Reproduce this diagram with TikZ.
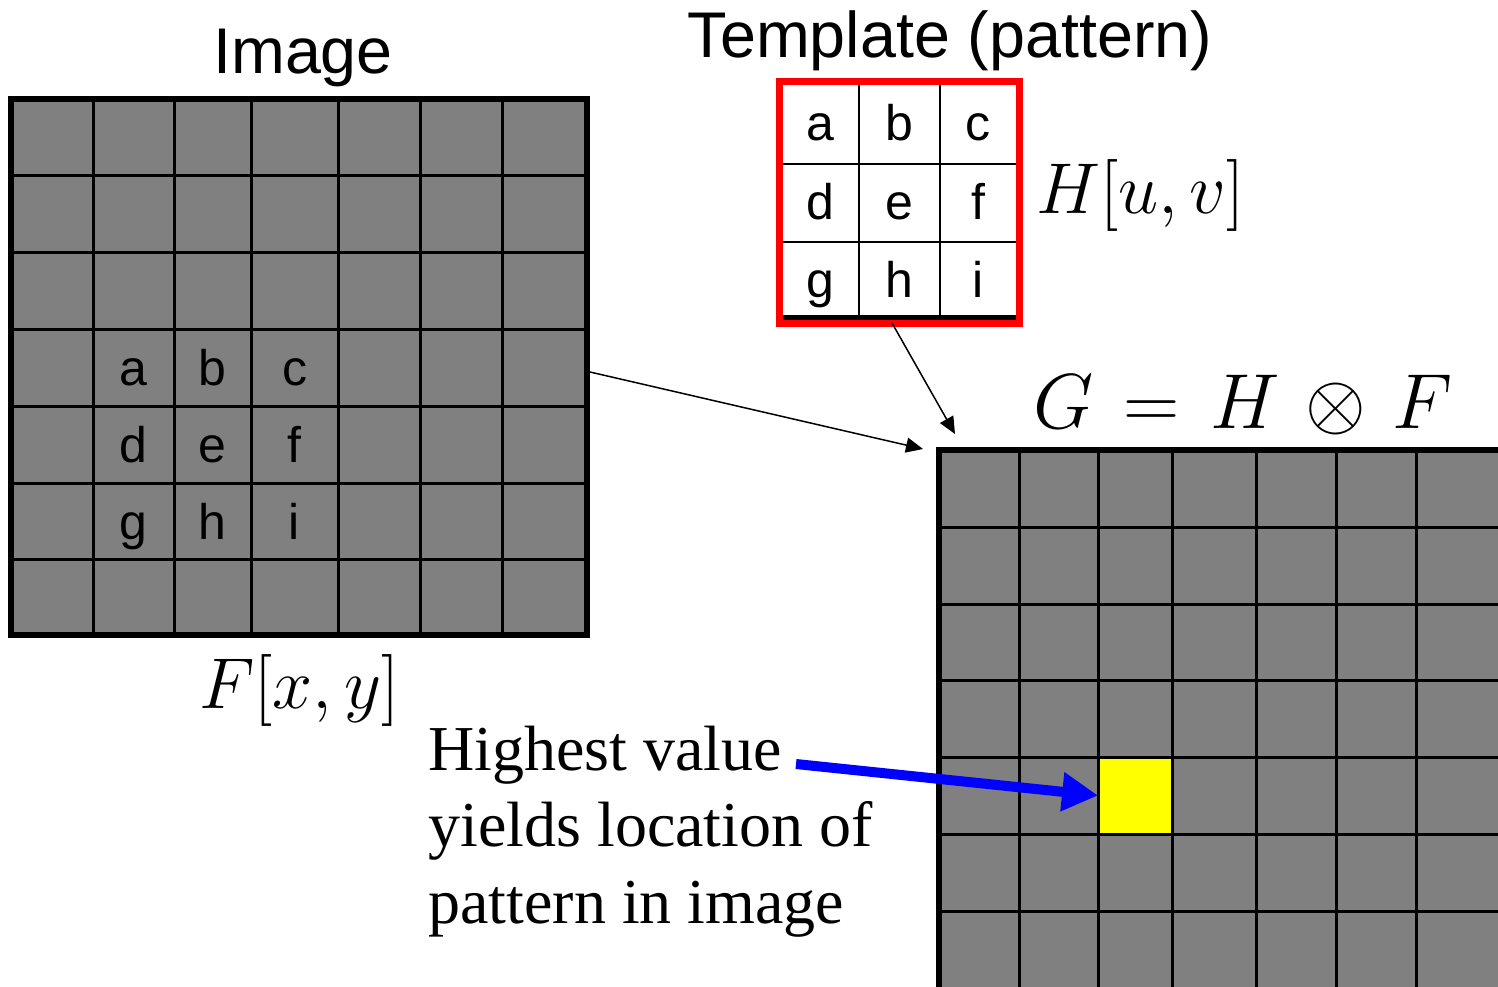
\documentclass[tikz,border=0pt]{standalone}
\usepackage{fix-cm}
\usepackage{fontspec}
\newfontfamily\arialfont{Liberation Sans}
\newfontfamily\timesfont{Liberation Serif}
\usetikzlibrary{arrows.meta}
\definecolor{cellgray}{RGB}{128,128,128}
\definecolor{peakyellow}{RGB}{255,255,0}
\definecolor{framered}{RGB}{255,0,0}
\definecolor{arrowblue}{RGB}{0,0,255}

\begin{document}
\begin{tikzpicture}[
    x=0.5pt, y=-0.5pt,
    % Text styles
    title/.style={font=\arialfont\fontsize{32.3}{36}\selectfont, inner sep=0pt, anchor=base},
    cell/.style={font=\arialfont\fontsize{25}{28}\selectfont, inner sep=0pt, anchor=base},
    formula/.style={font=\fontsize{36}{40}\selectfont, inner sep=0pt, anchor=base west},
    note/.style={font=\timesfont\fontsize{32}{38.25}\selectfont, align=left, inner sep=0pt, anchor=base west},
    % Line styles
    gridline/.style={line width=1.5pt},
    border/.style={line width=3pt},
    tplline/.style={line width=1pt},
    peak/.style={fill=peakyellow, minimum width=36.75pt, minimum height=38.5pt, inner sep=0pt},
    link/.style={-{Triangle[length=8.5pt,width=7.5pt]}, line width=0.75pt},
    pointer/.style={-{Triangle[length=18pt,width=18.5pt]}, line width=5pt, draw=arrowblue}
]
\useasboundingbox (0,0) rectangle (1498,986);

% --- IMAGE F (left) ---
\node[title] (imgtitle) at (303,73) {Image};
\fill[cellgray] (11,99) rectangle (587,635);
\foreach \x in {93,174,251,338,420,502} \draw[gridline] (\x,99) -- (\x,635);
\foreach \y in {175,252,329,406,483,559} \draw[gridline] (11,\y) -- (587,\y);
\draw[border] (11,99) rectangle (587,635);
\foreach \ch/\x/\y in {a/133.5/385.5, b/212.5/385.5, c/294.5/385.5,
                       d/133.5/462.5, e/212.5/462.5, f/294.5/462.5,
                       g/133.5/539, h/212.5/539, i/294.5/539}
    \node[cell] (img-\ch) at (\x,\y) {\ch};
\node[formula] (Fxy) at (199,708) {$F[x,y]$};

% --- TEMPLATE H (top) ---
\node[title] (tpltitle) at (950,57) {Template (pattern)};
\fill[white] (783,85) rectangle (1016,320);
\foreach \x in {859,940} \draw[tplline] (\x,85) -- (\x,320);
\foreach \y in {164,242} \draw[tplline] (783,\y) -- (1016,\y);
\draw[line width=2.5pt] (783,317.5) -- (1016,317.5);
\draw[framered, line width=3.5pt] (779.5,81.5) rectangle (1019.5,323.5);
\foreach \ch/\x/\y in {a/820/140.5, b/899.5/140.5, c/978/140.5,
                       d/820/219, e/899.5/219, f/978/219,
                       g/820/297, h/899.5/297, i/978/297}
    \node[cell] (tpl-\ch) at (\x,\y) {\ch};
\node[formula] (Huv) at (1036,213) {$H[u,v]$};

% --- RESULT G (bottom right) ---
\node[formula, font=\fontsize{39}{43}\selectfont] (Geq) at (1033,428) {$G \mkern2mu=\mkern2mu H \mkern2mu\otimes\mkern2mu F$};
\begin{scope}
\clip (0,0) rectangle (1498,986);
\fill[cellgray] (939,450) rectangle (1510,1000);
\node[peak] (peak) at (1135.25,795.5) {};
\foreach \x in {1019,1098.5,1172,1256,1336,1416} \draw[gridline] (\x,450) -- (\x,1000);
\foreach \y in {527,604,680,757,834,911} \draw[gridline] (939,\y) -- (1510,\y);
\draw[border] (1510,450) -- (939,450) -- (939,1000);
\end{scope}

% --- connectors ---
\coordinate (img out) at (590,372);
\coordinate (res in) at (923,449);
\coordinate (tpl out) at (892,323);
\coordinate (res top) at (955,434);
\draw[link] (img out) -- (res in);
\draw[link] (tpl out) -- (res top);

\node[note] (note) at (428,923) {Highest value\\yields location of\\pattern in image};
\coordinate (note tail) at (796,764);
\draw[pointer] (note tail) -- (peak.west);

\end{tikzpicture}
\end{document}
